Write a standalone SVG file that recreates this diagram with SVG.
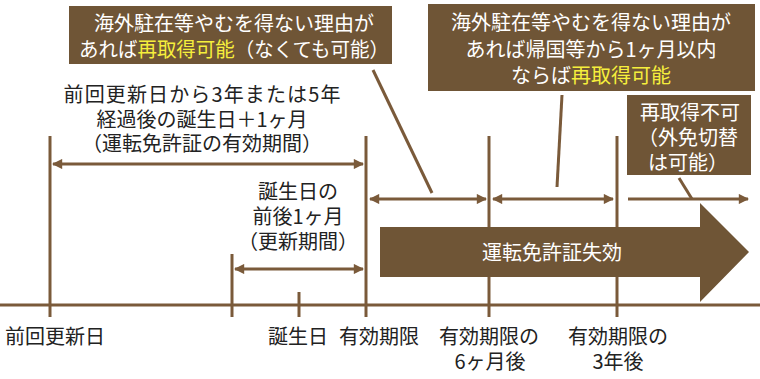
<svg xmlns="http://www.w3.org/2000/svg" width="760" height="379" viewBox="0 0 760 379">
<defs>
<style>
.t{font-family:"Noto Sans CJK JP","Noto Sans",sans-serif;font-size:20px;fill:#222;text-anchor:middle}
.w{fill:#fff}
.y{fill:#f6ef3c}
.ln{stroke:#7a5a3a;stroke-width:3;fill:none}
.box{fill:#6f5536}
</style>
<marker id="ah" viewBox="0 0 10 10" refX="9" refY="5" markerWidth="4" markerHeight="3.4" orient="auto-start-reverse" markerUnits="strokeWidth">
<path d="M0,0 L10,5 L0,10 Z" fill="#7a5a3a"/>
</marker>
</defs>
<rect width="760" height="379" fill="#fff"/>
<g id="timeline">
<line class="ln" x1="0" y1="305" x2="760" y2="305"/>
<line class="ln" x1="50" y1="136" x2="50" y2="317"/>
<line class="ln" x1="232" y1="254" x2="232" y2="317"/>
<line class="ln" x1="299" y1="292" x2="299" y2="317"/>
<line class="ln" x1="366" y1="136" x2="366" y2="317"/>
<line class="ln" x1="489" y1="136" x2="489" y2="317"/>
<line class="ln" x1="617" y1="136" x2="617" y2="317"/>
</g>
<g id="connectors">
<line class="ln" x1="53" y1="164" x2="363" y2="164" marker-start="url(#ah)" marker-end="url(#ah)"/>
<line class="ln" x1="235" y1="269" x2="363" y2="269" marker-start="url(#ah)" marker-end="url(#ah)"/>
<line class="ln" x1="370" y1="199" x2="486" y2="199" marker-start="url(#ah)" marker-end="url(#ah)"/>
<line class="ln" x1="493" y1="199" x2="613" y2="199" marker-start="url(#ah)" marker-end="url(#ah)"/>
<line class="ln" x1="628" y1="199" x2="748" y2="199" marker-end="url(#ah)"/>
<line class="ln" x1="373" y1="70" x2="432" y2="193"/>
<line class="ln" x1="562" y1="95" x2="557" y2="187"/>
<line class="ln" x1="679" y1="178" x2="692" y2="199"/>
</g>
<g id="expired">
<polygon class="box" points="380,227 700,227 700,203 749,252 700,302 700,277 380,277"/>
<text class="t w" x="552" y="260">運転免許証失効</text>
</g>
<g id="box1">
<rect class="box" x="69" y="6" width="323" height="58"/>
<text class="t w" x="234" y="31">海外駐在等やむを得ない理由が</text>
<text class="t w" x="234" y="57" textLength="310" lengthAdjust="spacingAndGlyphs">あれば<tspan class="y">再取得可能</tspan>（なくても可能）</text>
</g>
<g id="box2">
<rect class="box" x="428" y="4" width="327" height="87"/>
<text class="t w" x="591" y="30">海外駐在等やむを得ない理由が</text>
<text class="t w" x="591" y="57">あれば帰国等から1ヶ月以内</text>
<text class="t w" x="591" y="83">ならば<tspan class="y">再取得可能</tspan></text>
</g>
<g id="box3">
<rect class="box" x="627" y="95" width="124" height="80"/>
<text class="t w" x="690" y="120">再取得不可</text>
<text class="t w" x="688" y="145">（外免切替</text>
<text class="t w" x="688" y="170">は可能）</text>
</g>
<g id="validity">
<text class="t" x="202" y="102" textLength="277">前回更新日から3年または5年</text>
<text class="t" x="202" y="127">経過後の誕生日＋1ヶ月</text>
<text class="t" x="202" y="151">（運転免許証の有効期間）</text>
</g>
<g id="renewal">
<text class="t" x="298" y="199">誕生日の</text>
<text class="t" x="298" y="224">前後1ヶ月</text>
<text class="t" x="298" y="249">（更新期間）</text>
</g>
<g id="labels">
<text class="t" x="55" y="344">前回更新日</text>
<text class="t" x="298" y="344">誕生日</text>
<text class="t" x="379" y="344">有効期限</text>
<text class="t" x="489" y="344">有効期限の</text>
<text class="t" x="490" y="369">6ヶ月後</text>
<text class="t" x="618" y="344">有効期限の</text>
<text class="t" x="618" y="369">3年後</text>
</g>
</svg>
